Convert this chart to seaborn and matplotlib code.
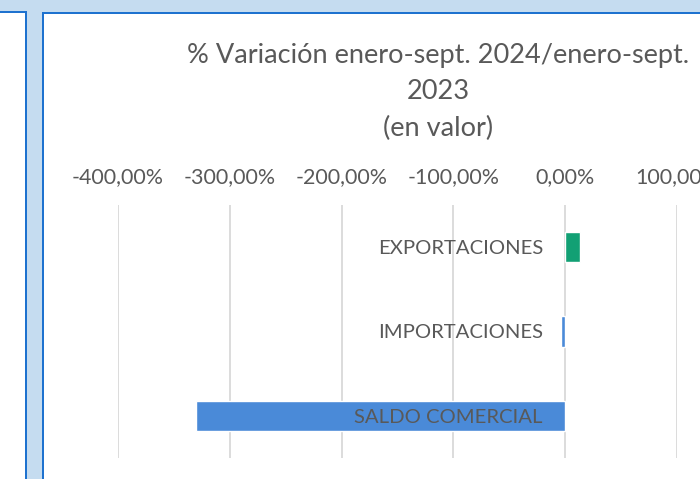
import numpy as np
import pandas as pd
import matplotlib
matplotlib.use("Agg")
import matplotlib.pyplot as plt
import matplotlib.patches as mpatches
from matplotlib.ticker import FuncFormatter, MultipleLocator
import seaborn as sns

# datos
categorias = ["EXPORTACIONES", "IMPORTACIONES", "SALDO COMERCIAL"]
variacion = [13.4, -4.2, -330.0]   # % variación ene-sep 2024 / ene-sep 2023
colores = {"EXPORTACIONES": "#12A074", "IMPORTACIONES": "#4A8AD8", "SALDO COMERCIAL": "#4A8AD8"}
titulo = "% Variación enero-sept. 2024/enero-sept.\n2023\n(en valor)"

sns.set_theme(style="white")
plt.rcParams["font.family"] = ["Lato", "DejaVu Sans"]

W, H = 700, 479
fig = plt.figure(figsize=(W / 100, H / 100), dpi=100)
fig.patch.set_facecolor("white")


def px(x0, y0, x1, y1):
    # rectángulo en pixeles (origen arriba-izquierda) -> coords de figura
    return (x0 / W, 1 - y1 / H), (x1 - x0) / W, (y1 - y0) / H


# marco tipo hoja de cálculo (dos gráficos de Excel)
azul_claro = "#C5DCF0"
azul_osc = "#1E72CF"
for (x0, y0, x1, y1), c in [
    ((0, 0, W, 12), azul_claro),
    ((26, 0, 43, H), azul_claro),
    ((0, 11, 27, 13), azul_osc),
    ((25, 11, 27, H), azul_osc),
    ((42, 12, W, 14), azul_osc),
    ((42, 12, 44, H), azul_osc),
]:
    xy, w, h = px(x0, y0, x1, y1)
    fig.patches.append(mpatches.Rectangle(xy, w, h, transform=fig.transFigure,
                                          facecolor=c, edgecolor="none", zorder=0))

ax = fig.add_axes([118 / W, 1 - 458 / H, (677 - 118) / W, (458 - 205) / H])
ax.set_facecolor("none")

df = pd.DataFrame({"categoria": categorias, "variacion": variacion})
sns.barplot(data=df, x="variacion", y="categoria", hue="categoria", palette=colores,
            orient="h", dodge=False, width=0.356, saturation=1, legend=False,
            ax=ax, zorder=2)

ax.set_xlim(-400, 100)
ax.set_ylim(2.5, -0.5)
ax.xaxis.set_major_locator(MultipleLocator(100))
ax.xaxis.set_major_formatter(FuncFormatter(lambda v, p: f"{v:.2f}".replace(".", ",") + "%"))
ax.xaxis.tick_top()
ax.tick_params(axis="x", length=0, pad=13, labelsize=15.4, labelcolor="#595959")
ax.tick_params(axis="y", length=0, pad=16, labelsize=14.6, labelcolor="#595959")
ax.set_xlabel("")
ax.set_ylabel("")

# eje vertical de categorías en el 0
ax.spines["left"].set_position(("data", 0))
for s in ax.spines.values():
    s.set_visible(False)

ax.set_axisbelow(True)
ax.yaxis.set_zorder(3)
ax.grid(axis="x", color="#D9D9D9", linewidth=1.3)
ax.grid(axis="y", visible=False)

fig.text(438 / W, 1 - 92 / H, titulo, ha="center", va="center", fontsize=19.5,
         color="#595959", linespacing=1.56)

fig.savefig("out.png", dpi=100)
